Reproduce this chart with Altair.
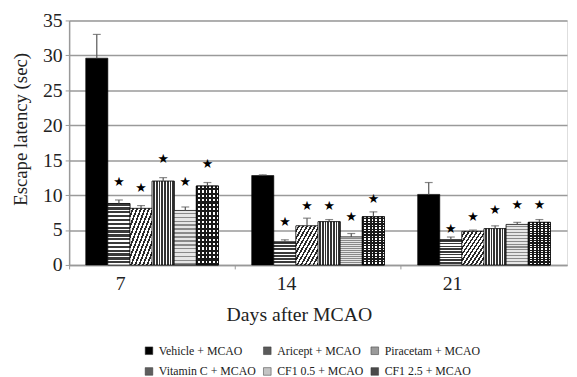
import altair as alt
import pandas as pd

days = ["7", "14", "21"]
groups = ["Vehicle + MCAO", "Aricept + MCAO", "Piracetam + MCAO",
          "Vitamin C + MCAO", "CF1 0.5 + MCAO", "CF1 2.5 + MCAO"]

vehicle = [29.6, 12.8, 10.1]
aricept = [8.8, 3.3, 3.6]
piracetam = [8.1, 5.6, 4.8]
vitc = [12.0, 6.2, 5.2]
cf105 = [7.8, 4.0, 5.8]
cf125 = [11.3, 6.9, 6.1]

vehicle_err = [33.0, 12.9, 11.8]
aricept_err = [9.3, 3.6, 4.0]
piracetam_err = [8.5, 6.7, 5.0]
vitc_err = [12.5, 6.5, 5.6]
cf105_err = [8.3, 4.5, 6.1]
cf125_err = [11.8, 7.6, 6.5]

vehicle_star = [None, None, None]
aricept_star = [11.9, 6.1, 5.2]
piracetam_star = [11.0, 8.5, 6.9]
vitc_star = [15.1, 8.5, 7.8]
cf105_star = [11.9, 6.9, 8.6]
cf125_star = [14.4, 9.5, 8.6]

y_ticks = [0, 5, 10, 15, 20, 25, 30, 35]

means = [vehicle, aricept, piracetam, vitc, cf105, cf125]
errs = [vehicle_err, aricept_err, piracetam_err, vitc_err, cf105_err, cf125_err]
stars = [vehicle_star, aricept_star, piracetam_star, vitc_star, cf105_star, cf125_star]

rows = []
for g, m, e, s in zip(groups, means, errs, stars):
    for i, d in enumerate(days):
        rows.append({"day": d, "group": g, "mean": m[i], "err": e[i], "star": s[i]})
df = pd.DataFrame(rows)

legend_colors = ["#000000", "#5a5a5a", "#9a9a9a", "#5e5e5e", "#c4c4c4", "#4a4a4a"]

FONT = "'Liberation Serif', 'Times New Roman', serif"


def stripes(n, c1, c2, x2, y2, frac=0.5):
    stops = []
    for k in range(n):
        a = k / n
        b = (k + frac) / n
        c = (k + 1) / n
        stops += [alt.GradientStop(offset=a, color=c1), alt.GradientStop(offset=b, color=c1),
                  alt.GradientStop(offset=b, color=c2), alt.GradientStop(offset=c, color=c2)]
    return alt.Gradient(gradient="linear", stops=stops, x1=0, y1=0, x2=x2, y2=y2)


x_axis = alt.Axis(title="Days after MCAO", labelAngle=0, bandPosition=-0.125,
                  labelOffset=-32, labelPadding=5, titlePadding=11, titleX=233, grid=False)
y_axis = alt.Axis(title="Escape latency (sec)", values=y_ticks, titleFontSize=19,
                  labelPadding=3, titlePadding=12, titleY=110, grid=True)

x_enc = alt.X("day:N", sort=days, scale=alt.Scale(paddingInner=0.2, paddingOuter=0.1),
              axis=x_axis)
xo_enc = alt.XOffset("group:N", sort=groups,
                     scale=alt.Scale(domain=groups, paddingInner=0, paddingOuter=0))
y_scale = alt.Scale(domain=[0, 35], nice=False)


def yq(field):
    return alt.Y(f"{field}:Q", scale=y_scale, axis=y_axis)


base = alt.Chart(df)

bars = base.mark_bar(stroke="#000", strokeWidth=0.6).encode(
    x=x_enc, xOffset=xo_enc, y=yq("mean"),
    fill=alt.Fill("group:N", sort=groups,
                  scale=alt.Scale(domain=groups, range=legend_colors),
                  legend=alt.Legend(title=None, orient="none", legendX=75, legendY=329,
                                    columns=3, direction="horizontal",
                                    symbolType="square", symbolSize=60,
                                    symbolStrokeColor="#333", symbolStrokeWidth=0.5,
                                    labelFont=FONT, labelFontSize=12, labelColor="#222",
                                    columnPadding=5, rowPadding=9, labelLimit=200)),
)


def overlay(name, grad):
    return base.transform_filter(alt.datum.group == name).mark_bar(
        fill=grad, stroke="#000", strokeWidth=0.6).encode(x=x_enc, xOffset=xo_enc, y=yq("mean"))


layers = [bars,
          overlay("Aricept + MCAO", stripes(16, "#3a3a3a", "#ffffff", 0, 1, 0.6)),
          overlay("Piracetam + MCAO", stripes(11, "#ffffff", "#2a2a2a", 1, 1, 0.55)),
          overlay("Vitamin C + MCAO", stripes(8, "#ffffff", "#333333", 1, 0, 0.35)),
          overlay("CF1 0.5 + MCAO", stripes(14, "#e6e6e6", "#8a8a8a", 0, 1, 0.6)),
          overlay("CF1 2.5 + MCAO", stripes(6, "#1a1a1a", "#ffffff", 1, 0, 0.5)),
          overlay("CF1 2.5 + MCAO", stripes(18, "rgba(0,0,0,0)", "#1a1a1a", 0, 1, 0.5))]

err_rule = base.mark_rule(color="#555", strokeWidth=1.2).encode(
    x=x_enc, xOffset=xo_enc, y=yq("mean"), y2="err:Q")
err_cap = base.mark_tick(color="#555", thickness=1.2, size=8).encode(
    x=x_enc, xOffset=xo_enc, y=yq("err"))
star_txt = base.transform_filter("datum.star != null").mark_text(
    text="★", fontSize=13, color="#000", baseline="middle", font="DejaVu Sans").encode(
    x=x_enc, xOffset=xo_enc, y=yq("star"))

chart = alt.layer(*layers, err_rule, err_cap, star_txt).properties(
    width=505, height=248,
    autosize=alt.AutoSizeParams(type="none"),
    padding={"left": 62, "top": 10, "right": 2, "bottom": 111},
).configure_view(stroke=None).configure(background="white").configure_axis(
    labelFont=FONT, labelFontSize=20, labelColor="#222",
    titleFont=FONT, titleFontSize=20, titleFontWeight="normal", titleColor="#222",
    tickColor="#999", tickSize=4, domainColor="#999", domainWidth=1.5,
    gridColor="#9a9a9a", gridWidth=1.5, labelOverlap=False,
)

chart.save("out.html", embed_options={"renderer": "svg", "actions": False})
